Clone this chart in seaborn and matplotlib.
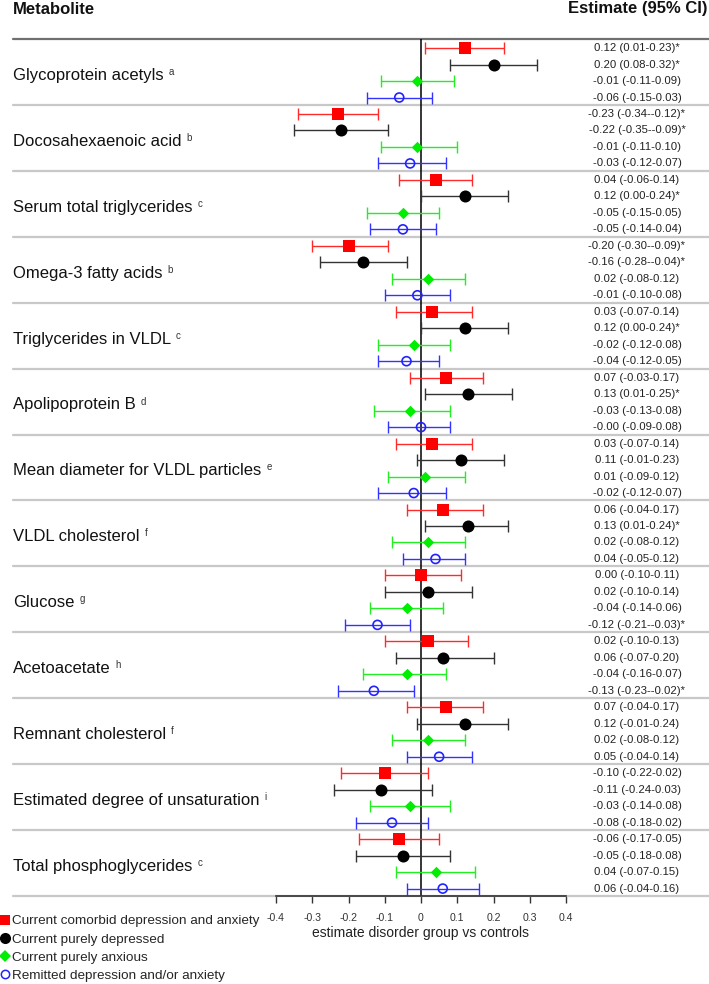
import numpy as np
import pandas as pd
import matplotlib
matplotlib.use("Agg")
import matplotlib.pyplot as plt
import matplotlib.transforms as mtransforms
from matplotlib.lines import Line2D
import seaborn as sns

# ---------------- data ----------------
metabolites = [
    "Glycoprotein acetyls", "Docosahexaenoic acid", "Serum total triglycerides",
    "Omega-3 fatty acids", "Triglycerides in VLDL", "Apolipoprotein B",
    "Mean diameter for VLDL particles", "VLDL cholesterol", "Glucose",
    "Acetoacetate", "Remnant cholesterol", "Estimated degree of unsaturation",
    "Total phosphoglycerides",
]
superscripts = ["a", "b", "c", "b", "c", "d", "e", "f", "g", "h", "f", "i", "c"]

groups = [
    "Current comorbid depression and anxiety",
    "Current purely depressed",
    "Current purely anxious",
    "Remitted depression and/or anxiety",
]

comorbid_est = [0.12, -0.23, 0.04, -0.20, 0.03, 0.07, 0.03, 0.06, 0.00, 0.02, 0.07, -0.10, -0.06]
comorbid_lo = [0.01, -0.34, -0.06, -0.30, -0.07, -0.03, -0.07, -0.04, -0.10, -0.10, -0.04, -0.22, -0.17]
comorbid_hi = [0.23, -0.12, 0.14, -0.09, 0.14, 0.17, 0.14, 0.17, 0.11, 0.13, 0.17, 0.02, 0.05]
comorbid_sig = [1, 1, 0, 1, 0, 0, 0, 0, 0, 0, 0, 0, 0]

depressed_est = [0.20, -0.22, 0.12, -0.16, 0.12, 0.13, 0.11, 0.13, 0.02, 0.06, 0.12, -0.11, -0.05]
depressed_lo = [0.08, -0.35, 0.00, -0.28, 0.00, 0.01, -0.01, 0.01, -0.10, -0.07, -0.01, -0.24, -0.18]
depressed_hi = [0.32, -0.09, 0.24, -0.04, 0.24, 0.25, 0.23, 0.24, 0.14, 0.20, 0.24, 0.03, 0.08]
depressed_sig = [1, 1, 1, 1, 1, 1, 0, 1, 0, 0, 0, 0, 0]

anxious_est = [-0.01, -0.01, -0.05, 0.02, -0.02, -0.03, 0.01, 0.02, -0.04, -0.04, 0.02, -0.03, 0.04]
anxious_lo = [-0.11, -0.11, -0.15, -0.08, -0.12, -0.13, -0.09, -0.08, -0.14, -0.16, -0.08, -0.14, -0.07]
anxious_hi = [0.09, 0.10, 0.05, 0.12, 0.08, 0.08, 0.12, 0.12, 0.06, 0.07, 0.12, 0.08, 0.15]
anxious_sig = [0, 0, 0, 0, 0, 0, 0, 0, 0, 0, 0, 0, 0]

remitted_est = [-0.06, -0.03, -0.05, -0.01, -0.04, -0.0, -0.02, 0.04, -0.12, -0.13, 0.05, -0.08, 0.06]
remitted_lo = [-0.15, -0.12, -0.14, -0.10, -0.12, -0.09, -0.12, -0.05, -0.21, -0.23, -0.04, -0.18, -0.04]
remitted_hi = [0.03, 0.07, 0.04, 0.08, 0.05, 0.08, 0.07, 0.12, -0.03, -0.02, 0.14, 0.02, 0.16]
remitted_sig = [0, 0, 0, 0, 0, 0, 0, 0, 1, 1, 0, 0, 0]

xticks = [-0.4, -0.3, -0.2, -0.1, 0.0, 0.1, 0.2, 0.3, 0.4]
xtick_labels = ["-0.4", "-0.3", "-0.2", "-0.1", "0", "0.1", "0.2", "0.3", "0.4"]

# ---------------- tidy table ----------------
series = [
    (comorbid_est, comorbid_lo, comorbid_hi, comorbid_sig),
    (depressed_est, depressed_lo, depressed_hi, depressed_sig),
    (anxious_est, anxious_lo, anxious_hi, anxious_sig),
    (remitted_est, remitted_lo, remitted_hi, remitted_sig),
]
rows = []
for gi, (est, lo, hi, sig) in enumerate(series):
    for mi in range(len(metabolites)):
        rows.append(dict(group=groups[gi], gidx=gi, metab=mi,
                         ypos=mi + (gi + 0.55) / 4.0,
                         est=est[mi], lo=lo[mi], hi=hi[mi], sig=sig[mi]))
df = pd.DataFrame(rows)

# ---------------- style ----------------
sns.set_theme(style="white")
plt.rcParams["font.family"] = ["Liberation Sans", "DejaVu Sans"]

marker_col = ["#FF0000", "#000000", "#00EE00", "#2222FF"]
line_col = ["#FF2A2A", "#333333", "#22EE22", "#3333FF"]
markers = ["s", "o", "D", "o"]
sizes = [66, 75, 34, 42]

W, H = 709, 984
fig = plt.figure(figsize=(W / 100, H / 100), dpi=100)
left_px, right_px, top_px, bot_px = 276, 566, 39, 896
ax = fig.add_axes([left_px / W, 1 - bot_px / H, (right_px - left_px) / W, (bot_px - top_px) / H])
ax.set_xlim(-0.4, 0.4)
n = len(metabolites)
ax.set_ylim(n, 0)

# separators
xmin_a = (13 - left_px) / (right_px - left_px)
xmax_a = (W - left_px) / (right_px - left_px)
for i in range(n + 1):
    col = "#707070" if i == 0 else "#C8C8C8"
    ax.axhline(i, xmin=xmin_a, xmax=xmax_a, color=col, lw=1.6, clip_on=False, zorder=1)

ax.axvline(0, color="black", lw=1.1, zorder=2)

# error bars + points
for gi in range(4):
    sub = df[df.gidx == gi]
    ax.errorbar(sub.est, sub.ypos, xerr=[sub.est - sub.lo, sub.hi - sub.est],
                fmt="none", ecolor=line_col[gi], elinewidth=1.0, capsize=4.6,
                capthick=1.0, zorder=3)
    sns.scatterplot(data=sub, x="est", y="ypos", marker=markers[gi], s=sizes[gi],
                    color=marker_col[gi], linewidth=0, ax=ax, zorder=4, legend=False)
    if gi == 3:
        coll = ax.collections[-1]
        coll.set_facecolor("none")
        coll.set_edgecolor(marker_col[gi])
        coll.set_linewidth(1.2)

ax.set_ylabel("")
ax.set_yticks([])
ax.set_xticks(xticks)
ax.set_xticklabels(xtick_labels)
ax.tick_params(axis="x", direction="out", length=5, width=1.0, pad=7.5,
               labelsize=7.6, colors="#333333", bottom=True)
ax.set_xlabel("estimate disorder group vs controls", fontsize=10, color="#222222", labelpad=2)
for s in ["left", "right", "top"]:
    ax.spines[s].set_visible(False)
ax.spines["bottom"].set_color("#333333")
ax.spines["bottom"].set_linewidth(1.2)
ax.spines["bottom"].set_zorder(5)
ax.patch.set_alpha(0)

# metabolite labels
trans_fy = mtransforms.blended_transform_factory(fig.transFigure, ax.transData)
name_texts = []
for i, name in enumerate(metabolites):
    t = fig.text(13 / W, i + 0.5 + 0.12, name, transform=trans_fy, ha="left",
                 va="baseline", fontsize=12, color="#111111")
    name_texts.append(t)

# estimate texts
for _, r in df.iterrows():
    txt = f"{r.est:.2f} ({r.lo:.2f}-{r.hi:.2f})" + ("*" if r.sig else "")
    fig.text(637 / W, r.ypos, txt, transform=trans_fy, ha="center", va="center",
             fontsize=8.2, color="#222222")

# headers
fig.text(13 / W, 1 - 9 / H, "Metabolite", ha="left", va="center", fontsize=12,
         fontweight="bold", color="#111111")
fig.text(708 / W, 1 - 9 / H, "Estimate (95% CI)", ha="right", va="center", fontsize=12,
         fontweight="bold", color="#111111")

# superscripts
fig.canvas.draw()
renderer = fig.canvas.get_renderer()
for i, t in enumerate(name_texts):
    bb = t.get_window_extent(renderer)
    fig.text((bb.x1 + 5) / W, i + 0.5 + 0.045, superscripts[i], transform=trans_fy,
             ha="left", va="baseline", fontsize=7, color="#333333")

# legend
handles = []
for gi in range(4):
    if gi == 3:
        h = Line2D([], [], marker="o", linestyle="none", markersize=6,
                   markerfacecolor="none", markeredgecolor=marker_col[gi], markeredgewidth=1.1)
    else:
        ms = [7.5, 8.0, 6.0][gi]
        h = Line2D([], [], marker=markers[gi], linestyle="none", markersize=ms,
                   markerfacecolor=marker_col[gi], markeredgewidth=0)
    handles.append(h)
fig.legend(handles, groups, loc="upper left", bbox_to_anchor=(0.0, 1 - 915 / H),
           frameon=False, fontsize=9.7, handlelength=0.8, handletextpad=0.1,
           borderpad=0, borderaxespad=0, labelspacing=0.42)

fig.savefig("out.png", dpi=100)
